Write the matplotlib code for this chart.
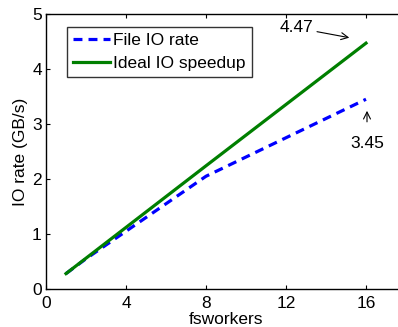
import matplotlib
matplotlib.use("Agg")
import matplotlib.pyplot as plt

workers = [1, 2, 4, 8, 16]
file_io = [0.28, 0.55, 1.05, 2.05, 3.45]
ideal_io = [0.28, 0.56, 1.12, 2.24, 4.47]
xticks = [0, 4, 8, 12, 16]
yticks = [0, 1, 2, 3, 4, 5]

plt.rcParams['font.family'] = ['Liberation Sans', 'DejaVu Sans']
plt.rcParams['font.size'] = 12.5

fig = plt.figure(figsize=(3.98, 3.27), dpi=100)
ax = fig.add_axes([46/398, 38/327, 360/398, 275/327])

ax.plot(workers, file_io, color='#0000ff', lw=2.3, ls=(0, (2.8, 1.9)), label='File IO rate')
ax.plot(workers, ideal_io, color='#007f00', lw=2.3, label='Ideal IO speedup')

ax.set_xlim(0, 18)
ax.set_ylim(0, 5)
ax.set_xticks(xticks)
ax.set_yticks(yticks)
ax.tick_params(direction='in', top=True, right=True, length=3)
ax.tick_params(axis='x', pad=5)
ax.tick_params(axis='y', pad=3)
for s in ax.spines.values():
    s.set_linewidth(1.0)
ax.set_xlabel('fsworkers', labelpad=1)
ax.set_ylabel('IO rate (GB/s)', labelpad=3)

ax.annotate('4.47', xy=(15.3, 4.56), xytext=(12.5, 4.75), ha='center', va='center',
            arrowprops=dict(arrowstyle='->', color='black', lw=0.8, shrinkA=1))
ax.annotate('3.45', xy=(16.05, 3.29), xytext=(16.05, 2.65), ha='center', va='center',
            arrowprops=dict(arrowstyle='->', color='black', lw=0.8, shrinkA=8))

leg = ax.legend(loc='upper left', bbox_to_anchor=(21/360, 1 - 13/275), frameon=True, fancybox=False,
                edgecolor='black', handlelength=2.1, handletextpad=0.2, borderpad=0.35,
                labelspacing=0.45, borderaxespad=0)
leg.get_frame().set_linewidth(1.0)

fig.savefig('out.png', dpi=100)
